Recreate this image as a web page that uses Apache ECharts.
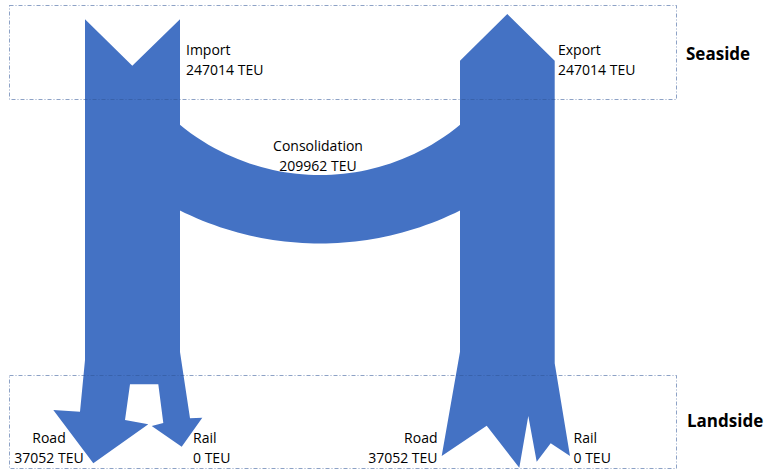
<!DOCTYPE html>
<html>
<head>
<meta charset="utf-8">
<script src="https://cdn.jsdelivr.net/npm/echarts@6/dist/echarts.min.js"></script>
<style>
html,body{margin:0;padding:0;background:#ffffff;}
#chart{width:769px;height:470px;}
</style>
</head>
<body>
<div id="chart"></div>
<script>
// ---------------- DATA ----------------
const seasideNodes = ['Import', 'Export'];
const seasideTEU = [247014, 247014];
const transferNodes = ['Consolidation'];
const transferTEU = [209962];
const landsideNodes = ['Road', 'Rail', 'Road', 'Rail'];
const landsideTEU = [37052, 0, 37052, 0];
const zoneNames = ['Seaside', 'Landside'];
const unit = 'TEU';

// ---------------- LAYOUT (diagram axis units) ----------------
const FLOW_OUTLINE = {
  Import: [[85,19.3],[132.3,65.7],[180,19.3],[180,352],[190,418.3],[202.3,417.7],[181.7,446.7],[151.7,426],
           [163.3,423],[158.3,384.3],[130,384.3],[125,420],[148.3,424.3],[93.3,463.3],[53.3,410],[80,411.7],[85,360]],
  Export: [[507.3,14],[554.7,60.7],[554.7,363.3],[570,456],[550.7,443.3],[536.7,461.7],[528.3,416],[519.3,467.7],
           [486.7,425.7],[441.7,456],[460,351.7],[460,60.7]]
};
const ARC = { x0: 179, x1: 461, upperEnd: 124, upperMid: 175, lowerEnd: 210, lowerMid: 243.5 };
const LABEL_AT = {
  'Import': [186, 59, 'left'],
  'Export': [558, 59, 'left'],
  'Consolidation': [318, 155, 'center'],
  'land0': [49, 447, 'center'],
  'land1': [193, 447, 'left'],
  'land2': [437.5, 447, 'right'],
  'land3': [573.5, 447, 'left']
};
const ZONE_BOX = { Seaside: [9.5, 5.5, 676.5, 99.5], Landside: [9.5, 375.5, 676.5, 468.5] };
const ZONE_LABEL_AT = { Seaside: [686, 53], Landside: [687, 420] };

const BLUE = '#4472C4';
const FONT = '"Open Sans", "Noto Sans", sans-serif';

// ---------------- SERIES DATA ----------------
const flowData = seasideNodes.map((n, i) => ({ name: n, value: seasideTEU[i] }))
  .concat(transferNodes.map((n, i) => ({ name: n, value: transferTEU[i] })));

const labelData = seasideNodes.map((n, i) => ({ name: n, value: seasideTEU[i], key: n }))
  .concat(transferNodes.map((n, i) => ({ name: n, value: transferTEU[i], key: n })))
  .concat(landsideNodes.map((n, i) => ({ name: n, value: landsideTEU[i], key: 'land' + i })));

const zoneData = zoneNames.map(n => ({ name: n, value: 0 }));

function arcPoints(api, endY, midY, reverse) {
  const half = (ARC.x1 - ARC.x0) / 2;
  const cx = (ARC.x0 + ARC.x1) / 2;
  const s = midY - endY;
  const R = (half * half + s * s) / (2 * s);
  const cy = midY - R;
  const pts = [];
  const N = 48;
  for (let k = 0; k <= N; k++) {
    const x = ARC.x0 + (ARC.x1 - ARC.x0) * k / N;
    const dx = x - cx;
    const y = cy + Math.sqrt(R * R - dx * dx);
    pts.push(api.coord([x, y]));
  }
  return reverse ? pts.reverse() : pts;
}

function renderFlow(params, api) {
  const item = flowData[params.dataIndex];
  let pts;
  if (FLOW_OUTLINE[item.name]) {
    pts = FLOW_OUTLINE[item.name].map(p => api.coord(p));
  } else {
    pts = arcPoints(api, ARC.upperEnd, ARC.upperMid, false)
      .concat(arcPoints(api, ARC.lowerEnd, ARC.lowerMid, true));
  }
  return { type: 'polygon', shape: { points: pts }, style: { fill: BLUE, stroke: null } };
}

function renderLabel(params, api) {
  const d = labelData[params.dataIndex];
  const a = LABEL_AT[d.key];
  const p = api.coord([a[0], a[1]]);
  return {
    type: 'text', x: p[0], y: p[1],
    style: {
      text: d.name + '\n' + d.value + ' ' + unit,
      fill: '#000000', font: '14px ' + FONT, fontSize: 14, fontFamily: FONT,
      lineHeight: 20, align: a[2], verticalAlign: 'middle'
    }
  };
}

function renderZone(params, api) {
  const name = zoneData[params.dataIndex].name;
  const b = ZONE_BOX[name];
  const p0 = api.coord([b[0], b[1]]);
  const p1 = api.coord([b[2], b[3]]);
  const lp = api.coord(ZONE_LABEL_AT[name]);
  return {
    type: 'group',
    children: [
      { type: 'rect', shape: { x: p0[0], y: p0[1], width: p1[0] - p0[0], height: p1[1] - p0[1] },
        style: { fill: null, stroke: 'rgba(47,85,151,0.55)', lineWidth: 1, lineDash: [4, 2, 1, 2] } },
      { type: 'text', x: lp[0], y: lp[1],
        style: { text: name, fill: '#000000', fontSize: 17, fontWeight: 'bold', fontFamily: FONT,
                 align: 'left', verticalAlign: 'middle' } }
    ]
  };
}

const chart = echarts.init(document.getElementById('chart'), null, { renderer: 'svg', width: 769, height: 470 });
chart.setOption({
  animation: false,
  backgroundColor: '#ffffff',
  grid: { left: 0, right: 0, top: 0, bottom: 0, containLabel: false },
  xAxis: { type: 'value', min: 0, max: 769, show: false },
  yAxis: { type: 'value', min: 0, max: 470, inverse: true, show: false },
  series: [
    { type: 'custom', name: 'flows', renderItem: renderFlow, data: flowData.map(d => d.value), z: 1, silent: true },
    { type: 'custom', name: 'labels', renderItem: renderLabel, data: labelData.map(d => d.value), z: 3, silent: true },
    { type: 'custom', name: 'zones', renderItem: renderZone, data: zoneData.map(d => d.value), z: 2, silent: true }
  ]
});
</script>
</body>
</html>
